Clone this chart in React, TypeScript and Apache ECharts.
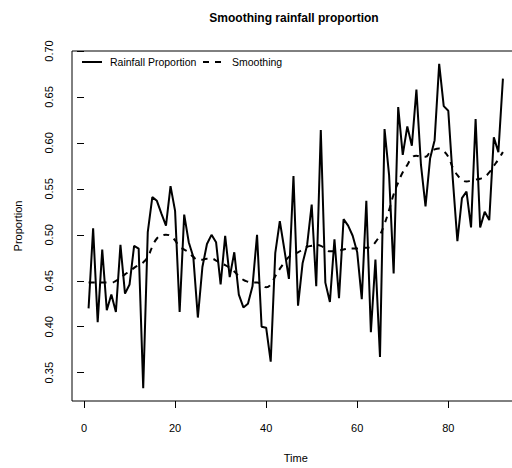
import React, { useEffect, useRef } from "react";
import * as echarts from "echarts";

// Monthly rainfall proportion and its smoothed trend
const rainfall: number[] = [
  0.420, 0.507, 0.405, 0.484, 0.418, 0.435, 0.416, 0.489, 0.436, 0.446,
  0.488, 0.485, 0.333, 0.503, 0.541, 0.537, 0.523, 0.510, 0.553, 0.526,
  0.416, 0.522, 0.492, 0.476, 0.410, 0.465, 0.490, 0.500, 0.492, 0.446,
  0.499, 0.454, 0.481, 0.435, 0.421, 0.425, 0.444, 0.500, 0.400, 0.399,
  0.362, 0.480, 0.515, 0.484, 0.452, 0.564, 0.423, 0.469, 0.489, 0.533,
  0.444, 0.614, 0.448, 0.427, 0.495, 0.431, 0.517, 0.510, 0.499, 0.481,
  0.430, 0.537, 0.394, 0.473, 0.367, 0.615, 0.565, 0.458, 0.639, 0.587,
  0.618, 0.597, 0.658, 0.576, 0.531, 0.583, 0.603, 0.686, 0.640, 0.635,
  0.560, 0.493, 0.540, 0.547, 0.508, 0.626, 0.508, 0.525, 0.516, 0.606,
  0.590, 0.670,
];

const smoothing: number[] = [
  0.448, 0.448, 0.448, 0.448, 0.448, 0.448, 0.450, 0.453, 0.457, 0.460,
  0.464, 0.467, 0.470, 0.476, 0.487, 0.496, 0.499, 0.500, 0.499, 0.494,
  0.487, 0.484, 0.481, 0.476, 0.473, 0.473, 0.474, 0.474, 0.472, 0.469,
  0.467, 0.464, 0.460, 0.455, 0.451, 0.449, 0.448, 0.448, 0.446, 0.443,
  0.446, 0.455, 0.463, 0.470, 0.476, 0.479, 0.481, 0.484, 0.487, 0.488,
  0.489, 0.488, 0.485, 0.482, 0.482, 0.483, 0.484, 0.485, 0.485, 0.485,
  0.486, 0.486, 0.487, 0.492, 0.500, 0.512, 0.527, 0.544, 0.557, 0.568,
  0.576, 0.584, 0.586, 0.585, 0.585, 0.590, 0.593, 0.594, 0.591, 0.585,
  0.573, 0.565, 0.560, 0.558, 0.559, 0.560, 0.561, 0.563, 0.568, 0.575,
  0.582, 0.590,
];

const xTicks: number[] = [0, 20, 40, 60, 80];
const yTicks: number[] = [0.35, 0.4, 0.45, 0.5, 0.55, 0.6, 0.65, 0.7];

const time = rainfall.map((_, i) => i + 1);

const FONT = "'Liberation Sans', Arial, Helvetica, sans-serif";

export default function App() {
  const ref = useRef<HTMLDivElement>(null);

  useEffect(() => {
    if (!ref.current) return;
    const chart = echarts.init(ref.current, undefined, { renderer: "svg" });

    const tickStyle = { color: "#000", width: 1 };

    chart.setOption({
      animation: false,
      backgroundColor: "#fff",
      textStyle: { fontFamily: FONT, color: "#000" },
      grid: {
        left: 72,
        top: 51,
        right: 20.5,
        bottom: 61,
        show: true,
        borderColor: "#000",
        borderWidth: 1,
        backgroundColor: "transparent",
      },
      xAxis: {
        type: "value",
        min: -2.64,
        max: 95.64,
        name: "Time",
        nameLocation: "middle",
        nameGap: 51,
        nameTextStyle: { color: "#000", fontSize: 11, fontFamily: FONT },
        axisLine: { show: false, lineStyle: { color: "#000" } },
        splitLine: { show: false },
        axisTick: {
          show: true,
          length: 7,
          lineStyle: tickStyle,
          customValues: xTicks,
        },
        axisLabel: {
          color: "#000",
          fontSize: 11,
          fontFamily: FONT,
          margin: 21,
          customValues: xTicks,
          formatter: (v: number) => String(v),
        },
      },
      yAxis: {
        type: "value",
        min: 0.3192,
        max: 0.7,
        name: "Proportion",
        nameLocation: "middle",
        nameGap: 49,
        nameTextStyle: { color: "#000", fontSize: 11, fontFamily: FONT },
        axisLine: { show: false, lineStyle: { color: "#000" } },
        splitLine: { show: false },
        axisTick: {
          show: true,
          length: 7,
          lineStyle: tickStyle,
          customValues: yTicks,
        },
        axisLabel: {
          color: "#000",
          fontSize: 11,
          fontFamily: FONT,
          rotate: 90,
          margin: 18,
          customValues: yTicks,
          formatter: (v: number) => v.toFixed(2),
        },
      },
      graphic: [
        {
          type: "text",
          x: 294,
          y: 18,
          style: {
            text: "Smoothing rainfall proportion",
            font: `bold 12px ${FONT}`,
            fill: "#000",
            textAlign: "center",
            textVerticalAlign: "middle",
          },
        },
        {
          type: "line",
          shape: { x1: 82, y1: 62, x2: 102, y2: 62 },
          style: { stroke: "#000", lineWidth: 2 },
        },
        {
          type: "text",
          x: 110,
          y: 62,
          style: {
            text: "Rainfall Proportion",
            font: `10.5px ${FONT}`,
            fill: "#000",
            textVerticalAlign: "middle",
          },
        },
        {
          type: "line",
          shape: { x1: 203, y1: 62, x2: 227, y2: 62 },
          style: { stroke: "#000", lineWidth: 2, lineDash: [6, 6] },
        },
        {
          type: "text",
          x: 232,
          y: 62,
          style: {
            text: "Smoothing",
            font: `10.5px ${FONT}`,
            fill: "#000",
            textVerticalAlign: "middle",
          },
        },
      ],
      series: [
        {
          name: "Rainfall Proportion",
          type: "line",
          data: time.map((t, i) => [t, rainfall[i]]),
          symbol: "none",
          lineStyle: { color: "#000", width: 2 },
          z: 3,
        },
        {
          name: "Smoothing",
          type: "line",
          data: time.map((t, i) => [t, smoothing[i]]),
          symbol: "none",
          smooth: true,
          lineStyle: { color: "#000", width: 2, type: [6, 6] },
          z: 2,
        },
      ],
    });

    return () => chart.dispose();
  }, []);

  return (
    <div
      style={{
        position: "absolute",
        left: 0,
        top: 0,
        width: 512,
        height: 468,
        overflow: "hidden",
        background: "#fff",
      }}
    >
      <div ref={ref} style={{ width: 540, height: 468 }} />
    </div>
  );
}
